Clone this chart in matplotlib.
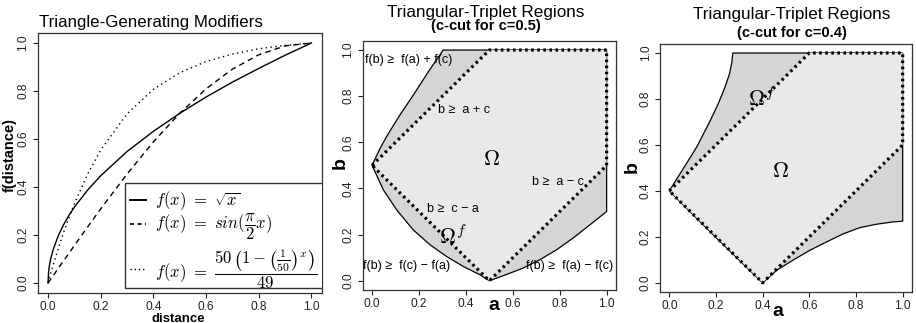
"""Triangle-generating modifiers and triangular-triplet regions (c-cuts)."""
import matplotlib
matplotlib.use('Agg')
import matplotlib.pyplot as plt
from matplotlib.patches import Polygon, Rectangle

plt.rcParams['font.family'] = ['Liberation Sans', 'DejaVu Sans']
plt.rcParams['mathtext.fontset'] = 'cm'

# --- panel 1: modifier curves ---
dist = [0, 0.002, 0.005, 0.01, 0.02, 0.04, 0.06, 0.08, 0.1, 0.15, 0.2,
        0.3, 0.4, 0.5, 0.6, 0.7, 0.8, 0.9, 1.0]
f_sqrt = [0, 0.045, 0.071, 0.1, 0.141, 0.2, 0.245, 0.283, 0.316, 0.387, 0.447,
          0.548, 0.632, 0.707, 0.775, 0.837, 0.894, 0.949, 1.0]
f_sin = [0, 0.003, 0.008, 0.016, 0.031, 0.063, 0.094, 0.125, 0.156, 0.233, 0.309,
         0.454, 0.588, 0.707, 0.809, 0.891, 0.951, 0.988, 1.0]
f_exp = [0, 0.008, 0.02, 0.039, 0.077, 0.148, 0.214, 0.274, 0.33, 0.453, 0.554,
         0.705, 0.807, 0.876, 0.923, 0.954, 0.976, 0.99, 1.0]

# --- panel 2: c = 0.5 ---
c5_upper_a = [0.0, 0.034, 0.07, 0.119, 0.176, 0.24, 0.303]
c5_upper_b = [0.5, 0.574, 0.639, 0.719, 0.805, 0.906, 1.0]
c5_lowl_a = [0.0, 0.048, 0.105, 0.176, 0.247, 0.318, 0.389, 0.46, 0.5]
c5_lowl_b = [0.5, 0.394, 0.307, 0.22, 0.156, 0.105, 0.062, 0.026, 0.0]
c5_lowr_a = [0.5, 0.57, 0.644, 0.715, 0.786, 0.857, 0.928, 1.0]
c5_lowr_b = [0.0, 0.026, 0.055, 0.091, 0.134, 0.185, 0.242, 0.3]
c5_omega_a = [0.0, 0.5, 1.0, 1.0, 0.5, 0.0]
c5_omega_b = [0.5, 1.0, 1.0, 0.5, 0.0, 0.5]

# --- panel 3: c = 0.4 ---
c4_upper_a = [0.0, 0.061, 0.118, 0.175, 0.21, 0.238, 0.258, 0.268, 0.272]
c4_upper_b = [0.4, 0.499, 0.592, 0.705, 0.78, 0.85, 0.91, 0.96, 1.0]
c4_lowl_a = [0.0, 0.2, 0.4]
c4_lowl_b = [0.4, 0.197, 0.0]
c4_lowr_a = [0.4, 0.46, 0.531, 0.603, 0.674, 0.745, 0.816, 0.888, 0.959, 1.0]
c4_lowr_b = [0.0, 0.055, 0.099, 0.142, 0.178, 0.213, 0.240, 0.255, 0.265, 0.268]
c4_omega_a = [0.0, 0.6, 1.0, 1.0, 0.4, 0.0]
c4_omega_b = [0.4, 1.0, 1.0, 0.6, 0.0, 0.4]

ticks = [0.0, 0.2, 0.4, 0.6, 0.8, 1.0]
tick_labels = ['0.0', '0.2', '0.4', '0.6', '0.8', '1.0']

DARK = '#d5d5d6'
LIGHT = '#e9e9ea'
W, H = 916, 323


def _rect(px_left, px_top, px_right, px_bottom):
    return [px_left / W, 1 - px_bottom / H, (px_right - px_left) / W, (px_bottom - px_top) / H]


def _style(ax):
    ax.set_xlim(-0.04, 1.04)
    ax.set_ylim(-0.04, 1.04)
    ax.set_xticks(ticks)
    ax.set_xticklabels(tick_labels)
    ax.set_yticks(ticks)
    ax.set_yticklabels(tick_labels, rotation=90, va='center')
    ax.tick_params(direction='out', length=3.5, width=0.8, labelsize=8.6, pad=2.5,
                   colors='#222222')
    for s in ax.spines.values():
        s.set_linewidth(0.9)
        s.set_color('#333333')


def _region(ax, up_a, up_b, ll_a, ll_b, lr_a, lr_b, om_a, om_b):
    outer = (list(zip(up_a, up_b)) + [(1.0, 1.0)]
             + list(zip(lr_a, lr_b))[::-1] + list(zip(ll_a, ll_b))[::-1])
    ax.add_patch(Polygon(outer, closed=True, facecolor=DARK, edgecolor='black',
                         linewidth=0.9, zorder=1))
    ax.add_patch(Polygon(list(zip(om_a, om_b)), closed=True, facecolor=LIGHT,
                         edgecolor='none', zorder=2))
    ax.plot(om_a, om_b, color='black', linewidth=2.3, linestyle=(0, (0.8, 1.1)),
            zorder=3)


fig = plt.figure(figsize=(W / 100, H / 100), dpi=100)

# panel 1
ax1 = fig.add_axes(_rect(37.5, 33.4, 322, 292.6))
ax1.plot(dist, f_sqrt, color='black', linewidth=1.0)
ax1.plot(dist, f_sin, color='black', linewidth=1.0, linestyle=(0, (4, 3)))
ax1.plot(dist, f_exp, color='black', linewidth=1.0, linestyle=(0, (1, 2.5)))
_style(ax1)
ax1.add_patch(Rectangle((0.292, -0.021), 0.9, 0.438, facecolor='white',
                        edgecolor='#333333', linewidth=1.0, zorder=4))
ax1.plot([0.311, 0.37], [0.345, 0.345], color='black', linewidth=1.4, zorder=5)
ax1.plot([0.311, 0.37], [0.247, 0.247], color='black', linewidth=1.2,
         linestyle=(0, (2.5, 2)), zorder=5)
ax1.plot([0.311, 0.37], [0.058, 0.058], color='black', linewidth=1.0,
         linestyle=(0, (1, 2)), zorder=5)
leg_kw = dict(fontsize=12, va='center', ha='left', zorder=6, clip_on=True)
ax1.text(0.405, 0.345, r'$f(x)\ =\ \sqrt{x}$', **leg_kw)
ax1.text(0.405, 0.232, r'$f(x)\ =\ sin(\dfrac{\pi}{2}x)$', **leg_kw)
ax1.text(0.405, 0.058,
         r'$f(x)\ =\ \dfrac{50\,\left(1-\left(\frac{1}{50}\right)^x\right)}{49}$',
         **leg_kw)

# panel 2
ax2 = fig.add_axes(_rect(362.7, 40.8, 616, 290))
_region(ax2, c5_upper_a, c5_upper_b, c5_lowl_a, c5_lowl_b, c5_lowr_a, c5_lowr_b,
        c5_omega_a, c5_omega_b)
_style(ax2)
ann = dict(fontsize=9, va='center', zorder=5)
ax2.text(-0.03, 0.957, 'f(b) ≥  f(a) + f(c)', ha='left', **ann)
ax2.text(0.281, 0.74, 'b ≥  a + c', ha='left', **ann)
ax2.text(0.68, 0.43, 'b ≥  a − c', ha='left', **ann)
ax2.text(0.234, 0.312, 'b ≥  c − a', ha='left', **ann)
ax2.text(-0.038, 0.062, 'f(b) ≥  f(c) − f(a)', ha='left', **ann)
ax2.text(1.026, 0.062, 'f(b) ≥  f(a) − f(c)', ha='right', **ann)
ax2.text(0.509, 0.524, r'$\Omega$', fontsize=16, ha='center', va='center', zorder=5)
ax2.text(0.285, 0.19, r'$\Omega^f$', fontsize=16, ha='left', va='center', zorder=5)

# panel 3
ax3 = fig.add_axes(_rect(660, 43.8, 912, 292))
_region(ax3, c4_upper_a, c4_upper_b, c4_lowl_a, c4_lowl_b, c4_lowr_a, c4_lowr_b,
        c4_omega_a, c4_omega_b)
_style(ax3)
ax3.text(0.335, 0.8, r'$\Omega^f$', fontsize=16, ha='left', va='center', zorder=5)
ax3.text(0.476, 0.484, r'$\Omega$', fontsize=16, ha='center', va='center', zorder=5)

# titles and axis labels
fig.text(151 / W, 1 - 22 / H, 'Triangle-Generating Modifiers', fontsize=12.2,
         ha='center', va='center')
for cx, ty, sy, sub in [(485.5, 13, 26, '(c-cut for c=0.5)'),
                        (792, 15, 33.5, '(c-cut for c=0.4)')]:
    fig.text(cx / W, 1 - ty / H, 'Triangular-Triplet Regions', fontsize=12.3,
             ha='center', va='center')
    fig.text(cx / W, 1 - sy / H, sub, fontsize=10.5, fontweight='bold',
             ha='center', va='center')

fig.text(178 / W, 1 - 318.5 / H, 'distance', fontsize=9.5, fontweight='bold',
         ha='center', va='center')
fig.text(9.5 / W, 1 - 155 / H, 'f(distance)', fontsize=10.5, fontweight='bold',
         rotation=90, ha='center', va='center')
for x, y in [(493.5, 306), (778, 311)]:
    fig.text(x / W, 1 - y / H, 'a', fontsize=14, fontweight='bold', ha='center', va='center')
for x, y in [(340, 163), (632, 167)]:
    fig.text(x / W, 1 - y / H, 'b', fontsize=14, fontweight='bold', rotation=90,
             ha='center', va='center')

fig.savefig('out.png', dpi=100)
